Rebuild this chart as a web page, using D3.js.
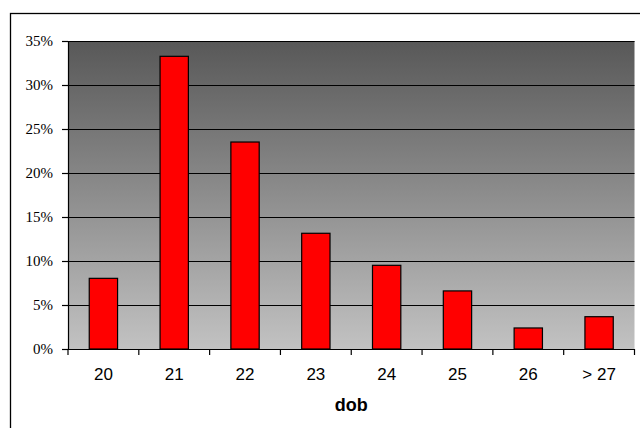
<!DOCTYPE html>
<html>
<head>
<meta charset="utf-8">
<script src="https://cdn.jsdelivr.net/npm/d3@7"></script>
<style>
html,body{margin:0;padding:0;background:#fff;}
svg{display:block;}
</style>
</head>
<body>
<svg id="chart" width="640" height="428"></svg>
<script>
const categories = ["20","21","22","23","24","25","26","> 27"];
const values = [0.0803, 0.3326, 0.2352, 0.1315, 0.0951, 0.0660, 0.0239, 0.0367];
const yTicks = [0, 0.05, 0.10, 0.15, 0.20, 0.25, 0.30, 0.35];
const xTitle = "dob";

const svg = d3.select("#chart");
const pLeft = 68, pRight = 634.5, pTop = 41, pBottom = 349;

// outer chart border
svg.append("rect").attr("x",10.5).attr("y",13.5).attr("width",640).attr("height",430)
  .attr("fill","#fff").attr("stroke","#000").attr("stroke-width",1.3);

const x = d3.scaleBand().domain(categories).range([pLeft,pRight]).paddingInner(0.6).paddingOuter(0.3);
const y = d3.scaleLinear().domain([0,0.35]).range([pBottom,pTop]);

const defs = svg.append("defs");
const grad = defs.append("linearGradient").attr("id","bg").attr("x1",0).attr("y1",0).attr("x2",0).attr("y2",1);
grad.append("stop").attr("offset","0%").attr("stop-color","#585858");
grad.append("stop").attr("offset","100%").attr("stop-color","#c2c2c2");

svg.append("rect").attr("x",pLeft).attr("y",pTop).attr("width",pRight-pLeft).attr("height",pBottom-pTop)
  .attr("fill","url(#bg)");

// gridlines
svg.append("g").selectAll("line").data(yTicks.filter(d=>d>0)).join("line")
  .attr("x1",pLeft).attr("x2",pRight)
  .attr("y1",d=>Math.round(y(d))+0.5).attr("y2",d=>Math.round(y(d))+0.5)
  .attr("stroke","#000").attr("stroke-width",1.2);

// bars
svg.append("g").selectAll("rect").data(values).join("rect")
  .attr("x",(d,i)=>x(categories[i]))
  .attr("y",d=>y(d))
  .attr("width",x.bandwidth())
  .attr("height",d=>pBottom-y(d))
  .attr("fill","#ff0000").attr("stroke","#000").attr("stroke-width",1.2);

// y axis
const yAxis = d3.axisLeft(y).tickValues(yTicks).tickFormat(d3.format(".0%")).tickSize(6).tickPadding(9);
const gy = svg.append("g").attr("transform",`translate(${pLeft},0)`).call(yAxis);
gy.attr("font-family",null).attr("font-size",null);
gy.select(".domain").attr("stroke","#000").attr("stroke-width",1.2);
gy.selectAll(".tick line").attr("stroke","#000").attr("stroke-width",1.2);
gy.selectAll("text").style("font-family","'Liberation Serif', 'Times New Roman', serif").style("font-size","15px").attr("fill","#000");

// x axis with ticks at category boundaries
const gx = svg.append("g").attr("transform",`translate(0,${pBottom})`);
gx.append("line").attr("x1",pLeft).attr("x2",pRight).attr("y1",0.5).attr("y2",0.5).attr("stroke","#000").attr("stroke-width",1.2);
const bounds = d3.range(categories.length+1).map(i=>x.range()[0] + i*x.step());
gx.selectAll(".bt").data(bounds).join("line").attr("class","bt")
  .attr("x1",d=>d).attr("x2",d=>d).attr("y1",0).attr("y2",6)
  .attr("stroke","#000").attr("stroke-width",1.2);
gx.selectAll("text.lbl").data(categories).join("text").attr("class","lbl")
  .attr("x",d=>x(d)+x.bandwidth()/2).attr("y",31)
  .attr("text-anchor","middle")
  .style("font-family","'Liberation Sans', Arial, sans-serif").style("font-size","17px").attr("fill","#000")
  .text(d=>d);

svg.append("text").attr("x",(pLeft+pRight)/2).attr("y",410.5).attr("text-anchor","middle")
  .style("font-family","'Liberation Sans', Arial, sans-serif").style("font-size","18px").style("font-weight","bold")
  .text(xTitle);
</script>
</body>
</html>
